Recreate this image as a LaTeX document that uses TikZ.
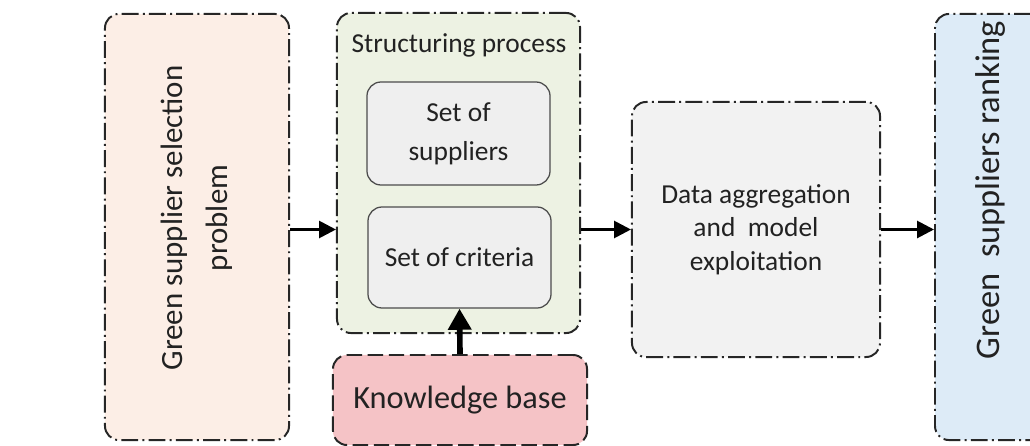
\documentclass[tikz,border=0pt]{standalone}
\usepackage{fontspec}
\setmainfont{Carlito}
\usetikzlibrary{arrows.meta}
\definecolor{peach}{HTML}{FCEEE6}
\definecolor{paleolive}{HTML}{EDF2E3}
\definecolor{boxgray}{HTML}{EFEFEF}
\definecolor{lightgray}{HTML}{F2F2F2}
\definecolor{kbpink}{HTML}{F5C3C6}
\definecolor{paleblue}{HTML}{DDEBF7}
\definecolor{txt}{HTML}{222222}

\begin{document}
\begin{tikzpicture}[x=0.025cm,y=-0.025cm,
	dashdot/.style={draw=black!85,line width=1.4pt,dash pattern=on 12pt off 3pt on 1.4pt off 3pt,rounded corners=10pt},
	longdash/.style={draw=black!85,line width=1.4pt,dash pattern=on 11pt off 4pt,rounded corners=10pt},
	innerbox/.style={draw=black!70,line width=0.9pt,fill=boxgray,rounded corners=10pt,minimum width=4.575cm,align=center,text=txt,font=\fontsize{19.5}{28}\selectfont},
	label/.style={align=center,text=txt,font=\fontsize{19.5}{24}\selectfont},
	arr/.style={-{Triangle[length=12pt,width=12pt]},line width=2pt},
	bigarr/.style={-{Triangle[length=15pt,width=16pt]},line width=4pt}]
		\useasboundingbox (0,0) rectangle (1030,446);
		\node[dashdot,fill=peach,minimum width=4.6cm,minimum height=10.65cm] (prob) at (197,227) {};
		\node[label,rotate=90,font=\fontsize{22}{32}\selectfont] (problbl) at (197,218) {Green supplier selection\\problem};
		\node[dashdot,fill=paleolive,minimum width=6.075cm,minimum height=8cm] (struct) at (458.5,173) {};
		\node[label] (structlbl) at (459,45) {Structuring process};
		\node[innerbox,minimum height=2.575cm] (supp) at (458.5,133.5) {Set of\\suppliers};
		\node[innerbox,minimum height=2.525cm] (crit) at (459.5,257.5) {Set of criteria};
		\node[longdash,fill=kbpink,minimum width=6.35cm,minimum height=2.25cm,text=txt,font=\fontsize{23}{28}\selectfont] (kb) at (460,400) {Knowledge base};
		\node[dashdot,fill=lightgray,minimum width=6.2cm,minimum height=6.375cm,label] (agg) at (756,229.5) {Data aggregation\\and~ model\\exploitation};
		\node[dashdot,fill=paleblue,minimum width=2.75cm,minimum height=10.65cm] (rank) at (990,227) {};
		\node[label,rotate=90,font=\fontsize{24.5}{30}\selectfont] (ranklbl) at (990,190) {Green~ suppliers ranking};
		\draw[arr] (prob.east |- agg.west) -- (struct.west |- agg.west);
		\draw[arr] (struct.east |- agg.west) -- (agg.west);
		\draw[arr] (agg.east) -- (rank.west |- agg.east);
		\draw[bigarr] (kb.north) -- (crit.south);
	\end{tikzpicture}
\end{document}
